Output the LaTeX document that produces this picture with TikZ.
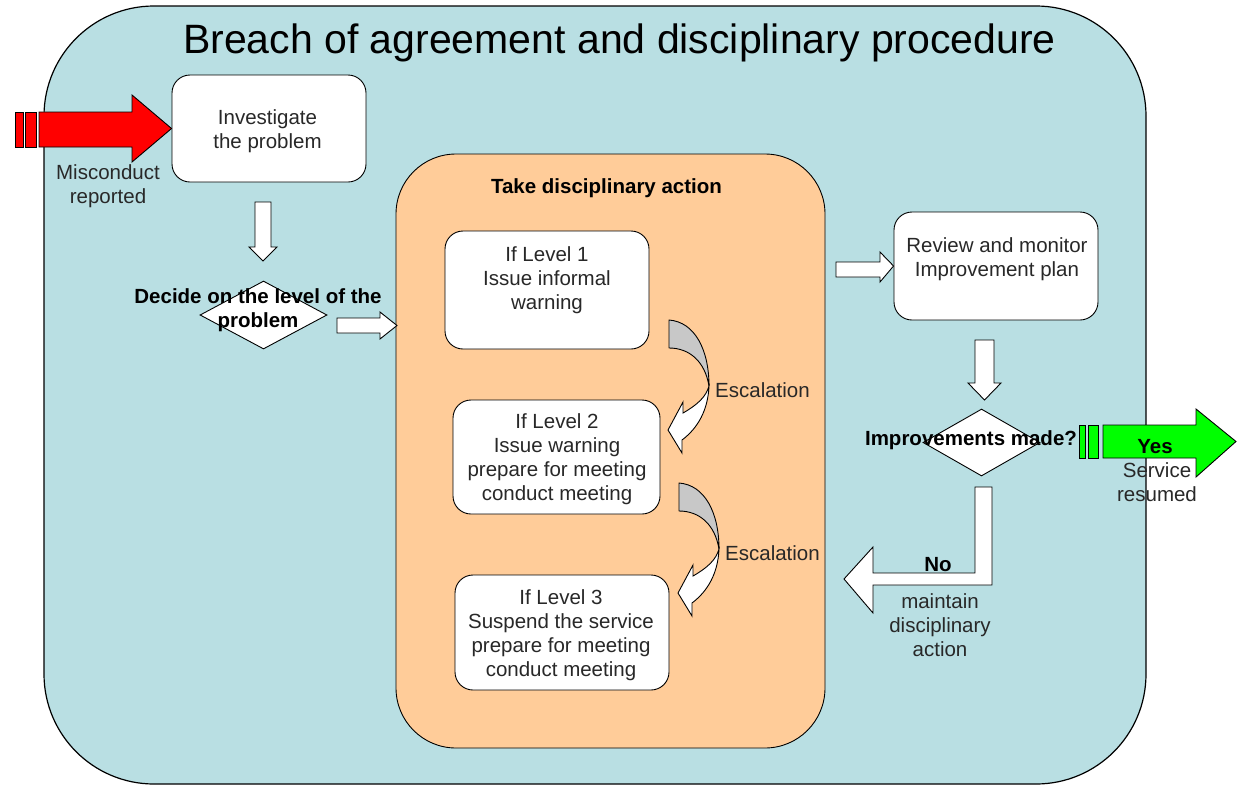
\documentclass[tikz,border=0pt]{standalone}
\usepackage{fontspec}
\setmainfont{Liberation Sans}
\usetikzlibrary{shapes.geometric}
\definecolor{bluebg}{RGB}{185,223,227}
\definecolor{peach}{RGB}{255,204,153}
\definecolor{escgray}{RGB}{200,200,200}
\definecolor{txtgray}{RGB}{40,40,40}
\definecolor{redarrow}{RGB}{255,0,0}
\definecolor{greenarrow}{RGB}{0,255,0}
\begin{document}
\begin{tikzpicture}[x=1pt,y=-1pt,
  box/.style={draw=black, line width=0.9pt, fill=white, rounded corners=18pt, inner sep=0pt},
  dia/.style={draw=black, line width=0.9pt, fill=white, shape=diamond, inner sep=0pt},
  blk/.style={draw=black, line width=0.9pt, fill=white, line join=miter},
  txt/.style={font=\fontsize{20.5}{24}\selectfont, text=txtgray, align=center, inner sep=0pt, anchor=base},
  btxt/.style={font=\bfseries\fontsize{20.5}{24}\selectfont, text=black, align=center, inner sep=0pt, anchor=base},
  escarrow/.pic={
    \draw[fill=escgray, line width=0.9pt, line join=round]
      (669,320) .. controls (695,322) and (709,350) .. (709,386)
      .. controls (705,362) and (690,348) .. (669,348) -- cycle;
    \draw[fill=white, line width=0.9pt, line join=miter]
      (709,386) .. controls (708,410) and (698,428) .. (682,440)
      -- (682,453) -- (668,430) -- (683,402) -- (683,413)
      .. controls (697,405) and (706,397) .. (709,386) -- cycle;
  }
]
\useasboundingbox (0,0) rectangle (1240,785);

% background panel
\node[draw=black, line width=1.2pt, fill=bluebg, rounded corners=110pt,
      minimum width=1102pt, minimum height=778pt, inner sep=0pt] (bg) at (595,395) {};

% title
\node[font=\fontsize{41}{48}\selectfont, anchor=base, inner sep=0pt] (title) at (619.5,53)
  {Breach of agreement and disciplinary procedure};

% action panel
\node[draw=black, line width=0.9pt, fill=peach, rounded corners=60pt,
      minimum width=429pt, minimum height=594pt, inner sep=0pt] (act) at (610.5,451) {};

% boxes
\node[box, minimum width=194pt, minimum height=107pt] (inv) at (269,128.5) {};
\node[dia, minimum width=127pt, minimum height=68pt] (dec) at (263.5,315) {};
\node[box, minimum width=204pt, minimum height=118pt] (l1) at (547,290) {};
\node[box, minimum width=207pt, minimum height=114pt] (l2) at (556.5,457) {};
\node[box, minimum width=214pt, minimum height=115pt] (l3) at (562,632.5) {};
\node[box, minimum width=204pt, minimum height=108pt] (rev) at (996,266) {};
\node[dia, minimum width=117pt, minimum height=67pt] (imp) at (981.5,442.5) {};

% red entry arrow
\draw[blk, fill=redarrow] (15,112) rectangle (23,147);
\draw[blk, fill=redarrow] (25,112) rectangle (36,147);
\draw[blk, fill=redarrow] (39,112) -- (132,112) -- (132,95) -- (inv.west)
  -- (132,162) -- (132,147) -- (39,147) -- cycle;

% investigate -> decide
\draw[blk] (255,202) -- (271,202) -- (271,247) -- (277,247) -- (263,261)
  -- (249,247) -- (255,247) -- cycle;

% decide -> action
\draw[blk] (337,318) -- (380,318) -- (380,312) -- (397,325.5) -- (380,339)
  -- (380,333) -- (337,333) -- cycle;

% action -> review
\draw[blk] (836,262) -- (880,262) -- (880,252) -- (rev.west) -- (880,282)
  -- (880,277) -- (836,277) -- cycle;

% review -> improvements
\draw[blk] (975,340) -- (994,340) -- (994,383) -- (1001,383) -- (984.5,400)
  -- (968,383) -- (975,383) -- cycle;

% escalation arrows
\pic (esc1) at (0,0) {escarrow};
\pic (esc2) at (10,163) {escarrow};

% green exit arrow
\coordinate (outtip) at (1236,441.5);
\draw[blk, fill=greenarrow] (1079,425) rectangle (1085,458);
\draw[blk, fill=greenarrow] (1088,425) rectangle (1098,458);
\draw[blk, fill=greenarrow] (1103,425) -- (1196,425) -- (1196,409) -- (outtip)
  -- (1196,477) -- (1196,458) -- (1103,458) -- cycle;

% "No" return arrow
\coordinate (backtip) at (844,579);
\draw[blk] (975,487) -- (992,487) -- (992,585) -- (873,585) -- (873,613)
  -- (backtip) -- (873,547) -- (873,573) -- (975,573) -- cycle;

% texts (anchor base = baseline of last line)
\node[txt] (tinv) at (267.5,148) {Investigate\\the problem};
\node[txt] (tmis) at (108,203) {Misconduct\\reported};
\node[btxt] (tdec) at (258,327) {Decide on the level of the\\problem};
\node[btxt] (tact) at (606.5,193) {Take disciplinary action};
\node[txt] (tl1) at (547,309) {If Level 1\\Issue informal\\warning};
\node[txt] (tl2) at (557,500) {If Level 2\\Issue warning\\prepare for meeting\\conduct meeting};
\node[txt] (tl3) at (561,676) {If Level 3\\Suspend the service\\prepare for meeting\\conduct meeting};
\node[txt] (trev) at (997,276) {Review and monitor\\Improvement plan};
\node[txt, anchor=base west] (tesc1) at (715,397) {Escalation};
\node[txt, anchor=base west] (tesc2) at (725,560) {Escalation};
\node[btxt] (timp) at (971,445) {Improvements made?};
\node[btxt] (tyes) at (1155,453) {Yes};
\node[txt] (tsvc) at (1157,501) {Service\\resumed};
\node[btxt] (tno) at (938,571) {No};
\node[txt] (tmnt) at (940,656) {maintain\\disciplinary\\action};
\end{tikzpicture}
\end{document}
